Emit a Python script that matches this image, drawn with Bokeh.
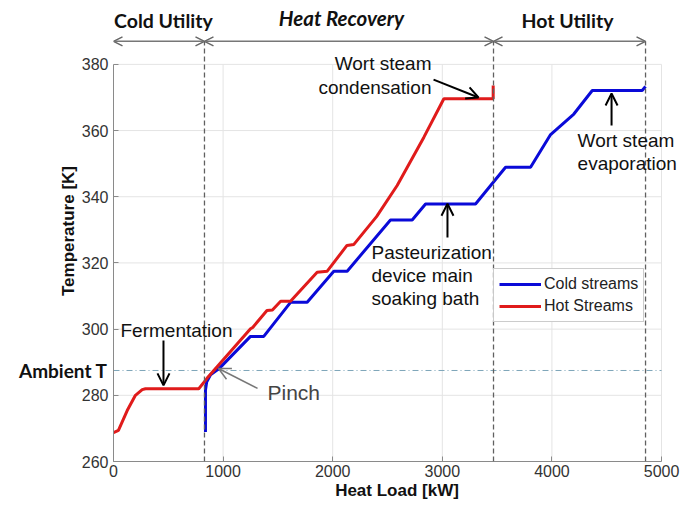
from bokeh.plotting import figure
from bokeh.models import (Range1d, Arrow, OpenHead, Label, Legend, LegendItem,
                          FixedTicker, LinearAxis)
from bokeh.embed import file_html
from bokeh.resources import INLINE

# ---- data ----
hot_q = [0, 45, 125, 200, 262, 292, 778, 855, 1250, 1270, 1400, 1450, 1525, 1615,
         1858, 1950, 2130, 2193, 2400, 2588, 2832, 3014, 3464, 3464]
hot_t = [268.7, 269.4, 275.4, 280.0, 281.7, 282.0, 282.0, 285.2, 300.1, 300.5, 305.6,
         305.8, 308.4, 308.4, 317.2, 317.5, 325.3, 325.6, 334.0, 343.4, 358.0, 369.6,
         369.6, 373.6]

cold_q = [839, 839, 850, 885, 961, 1250, 1371, 1615, 1767, 2010, 2132, 2527, 2725,
          2847, 3303, 3577, 3805, 3988, 4200, 4368, 4823, 4854]
cold_t = [268.9, 281.5, 284.0, 286.2, 288.0, 297.8, 297.8, 308.1, 308.1, 317.5, 317.5,
          333.0, 333.0, 337.8, 337.8, 348.9, 348.9, 358.8, 365.0, 372.1, 372.1, 373.3]

x_ticks = [0, 1000, 2000, 3000, 4000, 5000]
y_ticks = [260, 280, 300, 320, 340, 360, 380]

ambient_t = 287.5
pinch_q = 830
recovery_end_q = 3467
hot_utility_end_q = 4854
region_names = ["Cold Utility", "Heat Recovery", "Hot Utility"]
region_bounds = [0, pinch_q, recovery_end_q, hot_utility_end_q]
region_label_q = [455, 2080, 4142]

# ---- figure ----
p = figure(width=680, height=505, output_backend="svg", toolbar_location=None,
           x_range=Range1d(0, 5173), y_range=Range1d(260, 399.3),
           min_border_left=113, min_border_right=0, min_border_top=0,
           min_border_bottom=44)
p.outline_line_color = None
p.background_fill_color = "white"
p.xgrid.visible = False
p.ygrid.visible = False

for ax in (p.xaxis[0], p.yaxis[0]):
    ax.axis_line_color = "#8a8a8a"
    ax.major_tick_line_color = "#8a8a8a"
    ax.major_tick_in = 5
    ax.major_tick_out = 0
    ax.minor_tick_line_color = None
    ax.major_label_text_font = "Liberation Sans"
    ax.major_label_text_font_size = "16px"
    ax.major_label_text_color = "#333333"
    ax.axis_label_text_font = "Liberation Sans"
    ax.axis_label_text_font_size = "17px"
    ax.axis_label_text_font_style = "bold"
    ax.axis_label_text_color = "#111111"

p.xaxis.ticker = FixedTicker(ticks=x_ticks)
p.yaxis.ticker = FixedTicker(ticks=y_ticks)
p.xaxis.bounds = (x_ticks[0], x_ticks[-1])
p.yaxis.bounds = (y_ticks[0], y_ticks[-1])
p.xaxis.axis_label = "Heat Load [kW]"
p.yaxis.axis_label = "Temperature [K]"
p.xaxis.major_label_standoff = 3
p.xaxis.axis_label_standoff = 1
p.yaxis.major_label_standoff = 5
p.yaxis.axis_label_standoff = 1

# outer left axis carrying the "Ambient T" marker label
amb_axis = LinearAxis(ticker=FixedTicker(ticks=[ambient_t]),
                      major_label_overrides={ambient_t: "Ambient T"})
amb_axis.axis_line_color = None
amb_axis.major_tick_line_color = None
amb_axis.minor_tick_line_color = None
amb_axis.major_label_standoff = -58
amb_axis.major_label_text_font = "Lato"
amb_axis.major_label_text_font_size = "19px"
amb_axis.major_label_text_font_style = "bold"
amb_axis.major_label_text_color = "#111111"
p.add_layout(amb_axis, "left")

# grid lines (bounded to the axes' extent)
p.segment(x0=x_ticks[1:], y0=y_ticks[0], x1=x_ticks[1:], y1=y_ticks[-1],
          line_color="#e4e4e4", line_width=1, level="underlay")
p.segment(x0=x_ticks[0], y0=y_ticks[1:], x1=x_ticks[-1], y1=y_ticks[1:],
          line_color="#e4e4e4", line_width=1, level="underlay")

# ambient line
p.segment(x0=x_ticks[0], y0=ambient_t, x1=x_ticks[-1], y1=ambient_t,
          line_color="#7fa6ba", line_width=1, line_dash="6 3 1 3")

# curves
cold_r = p.line(cold_q, cold_t, line_color="#0a0ad8", line_width=3)
hot_r = p.line(hot_q, hot_t, line_color="#e01b1b", line_width=3)

# region dashed verticals
top_y = 386.95
for q in [pinch_q, recovery_end_q, hot_utility_end_q]:
    p.add_layout(Arrow(x_start=q, y_start=260, x_end=q, y_end=top_y, end=None,
                       line_color="#606060", line_width=1.3, line_dash="5 3"))

# region double arrows
for i in range(3):
    p.add_layout(Arrow(x_start=region_bounds[i], y_start=top_y,
                       x_end=region_bounds[i + 1], y_end=top_y,
                       start=OpenHead(size=9, line_color="#666666", line_width=1.5),
                       end=OpenHead(size=9, line_color="#666666", line_width=1.5),
                       line_color="#777777", line_width=1.5))

for name, q in zip(region_names, region_label_q):
    italic = name == "Heat Recovery"
    p.add_layout(Label(x=q, y=393.9 if italic else 393.3, text=name,
                       text_align="center", text_baseline="middle", text_font="Lato",
                       text_font_size="20.5px" if italic else "19.5px",
                       text_font_style="bold italic" if italic else "bold",
                       text_color="#111111"))

# annotations
def note(x, y, txt, align="left", color="#111111", size="19px"):
    p.add_layout(Label(x=x, y=y, text=txt, text_align=align, text_baseline="middle",
                       text_font="Liberation Sans", text_font_size=size,
                       text_color=color))

def pointer(x0, y0, x1, y1, color="black", width=2):
    p.add_layout(Arrow(x_start=x0, y_start=y0, x_end=x1, y_end=y1,
                       end=OpenHead(size=12, line_color=color, line_width=width),
                       line_color=color, line_width=width))

note(64, 299.6, "Fermentation")
pointer(456, 296.6, 456, 283.0)

note(1405, 280.8, "Pinch", color="#444444", size="21px")
pointer(1314, 282.1, 958, 288.1, color="#777777", width=1.5)

note(2901, 380.2, "Wort steam", align="right")
note(2901, 373.0, "condensation", align="right")
pointer(2920, 375.4, 3330, 370.0)

note(4234, 357.0, "Wort steam")
note(4234, 350.0, "evaporation")
pointer(4544, 361.5, 4544, 371.2)

note(2354, 323.1, "Pasteurization")
note(2354, 316.2, "device main")
note(2354, 309.2, "soaking bath")
pointer(3047, 327.7, 3047, 337.9)

legend = Legend(items=[LegendItem(label="Cold streams", renderers=[cold_r]),
                       LegendItem(label="Hot Streams", renderers=[hot_r])],
                location=(380, 139))
legend.border_line_color = "#9a9a9a"
legend.border_line_width = 1.5
legend.label_text_font = "Liberation Sans"
legend.label_text_font_size = "16px"
legend.label_text_color = "#222222"
legend.glyph_width = 42
legend.glyph_height = 16
legend.label_standoff = 3
legend.label_height = 20
legend.padding = 5
legend.spacing = 2
legend.margin = 0
p.add_layout(legend)

open("out.html", "w").write(file_html(p, INLINE))
